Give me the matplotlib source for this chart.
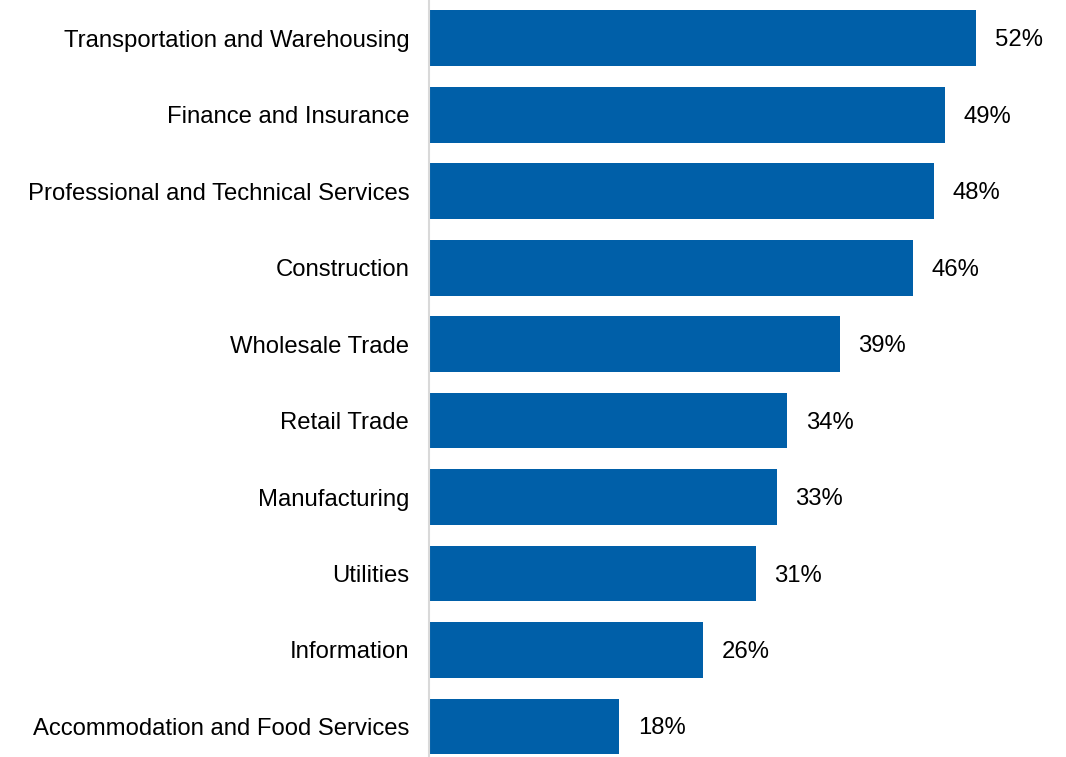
import matplotlib
matplotlib.use("Agg")
import matplotlib.pyplot as plt

categories = [
    "Transportation and Warehousing",
    "Finance and Insurance",
    "Professional and Technical Services",
    "Construction",
    "Wholesale Trade",
    "Retail Trade",
    "Manufacturing",
    "Utilities",
    "Information",
    "Accommodation and Food Services",
]
values = [52, 49, 48, 46, 39, 34, 33, 31, 26, 18]
value_labels = [f"{v}%" for v in values]

plt.rcParams["font.family"] = ["Liberation Sans", "DejaVu Sans"]

W, H = 1066, 757
FS = 17.2
fig = plt.figure(figsize=(W / 100, H / 100), dpi=100)
ax = fig.add_axes([430 / W, 0, 1 - 430 / W, 1])

bar_color = "#005FA8"
pos = list(range(len(categories)))
ax.barh(pos, values, height=0.73, color=bar_color)

ax.set_ylim(len(categories) - 1 + 0.4, -0.5)
ax.set_xlim(0, (W - 430) / 10.5)

for p, v, lab in zip(pos, values, value_labels):
    ax.annotate(lab, (v, p), xytext=(13.5, -1.5), textcoords="offset points",
                va="center", ha="left", fontsize=FS, color="#000000")

ax.set_yticks(pos)
ax.set_yticklabels(categories)
ax.tick_params(axis="y", length=0, pad=14, labelsize=FS, labelcolor="#000000")
ax.set_xticks([])

for s in ["top", "right", "bottom"]:
    ax.spines[s].set_visible(False)
ax.spines["left"].set_color("#D9D9D9")
ax.spines["left"].set_linewidth(1.5)
ax.spines["left"].set_position(("outward", 1))

fig.savefig("out.png", dpi=100)
